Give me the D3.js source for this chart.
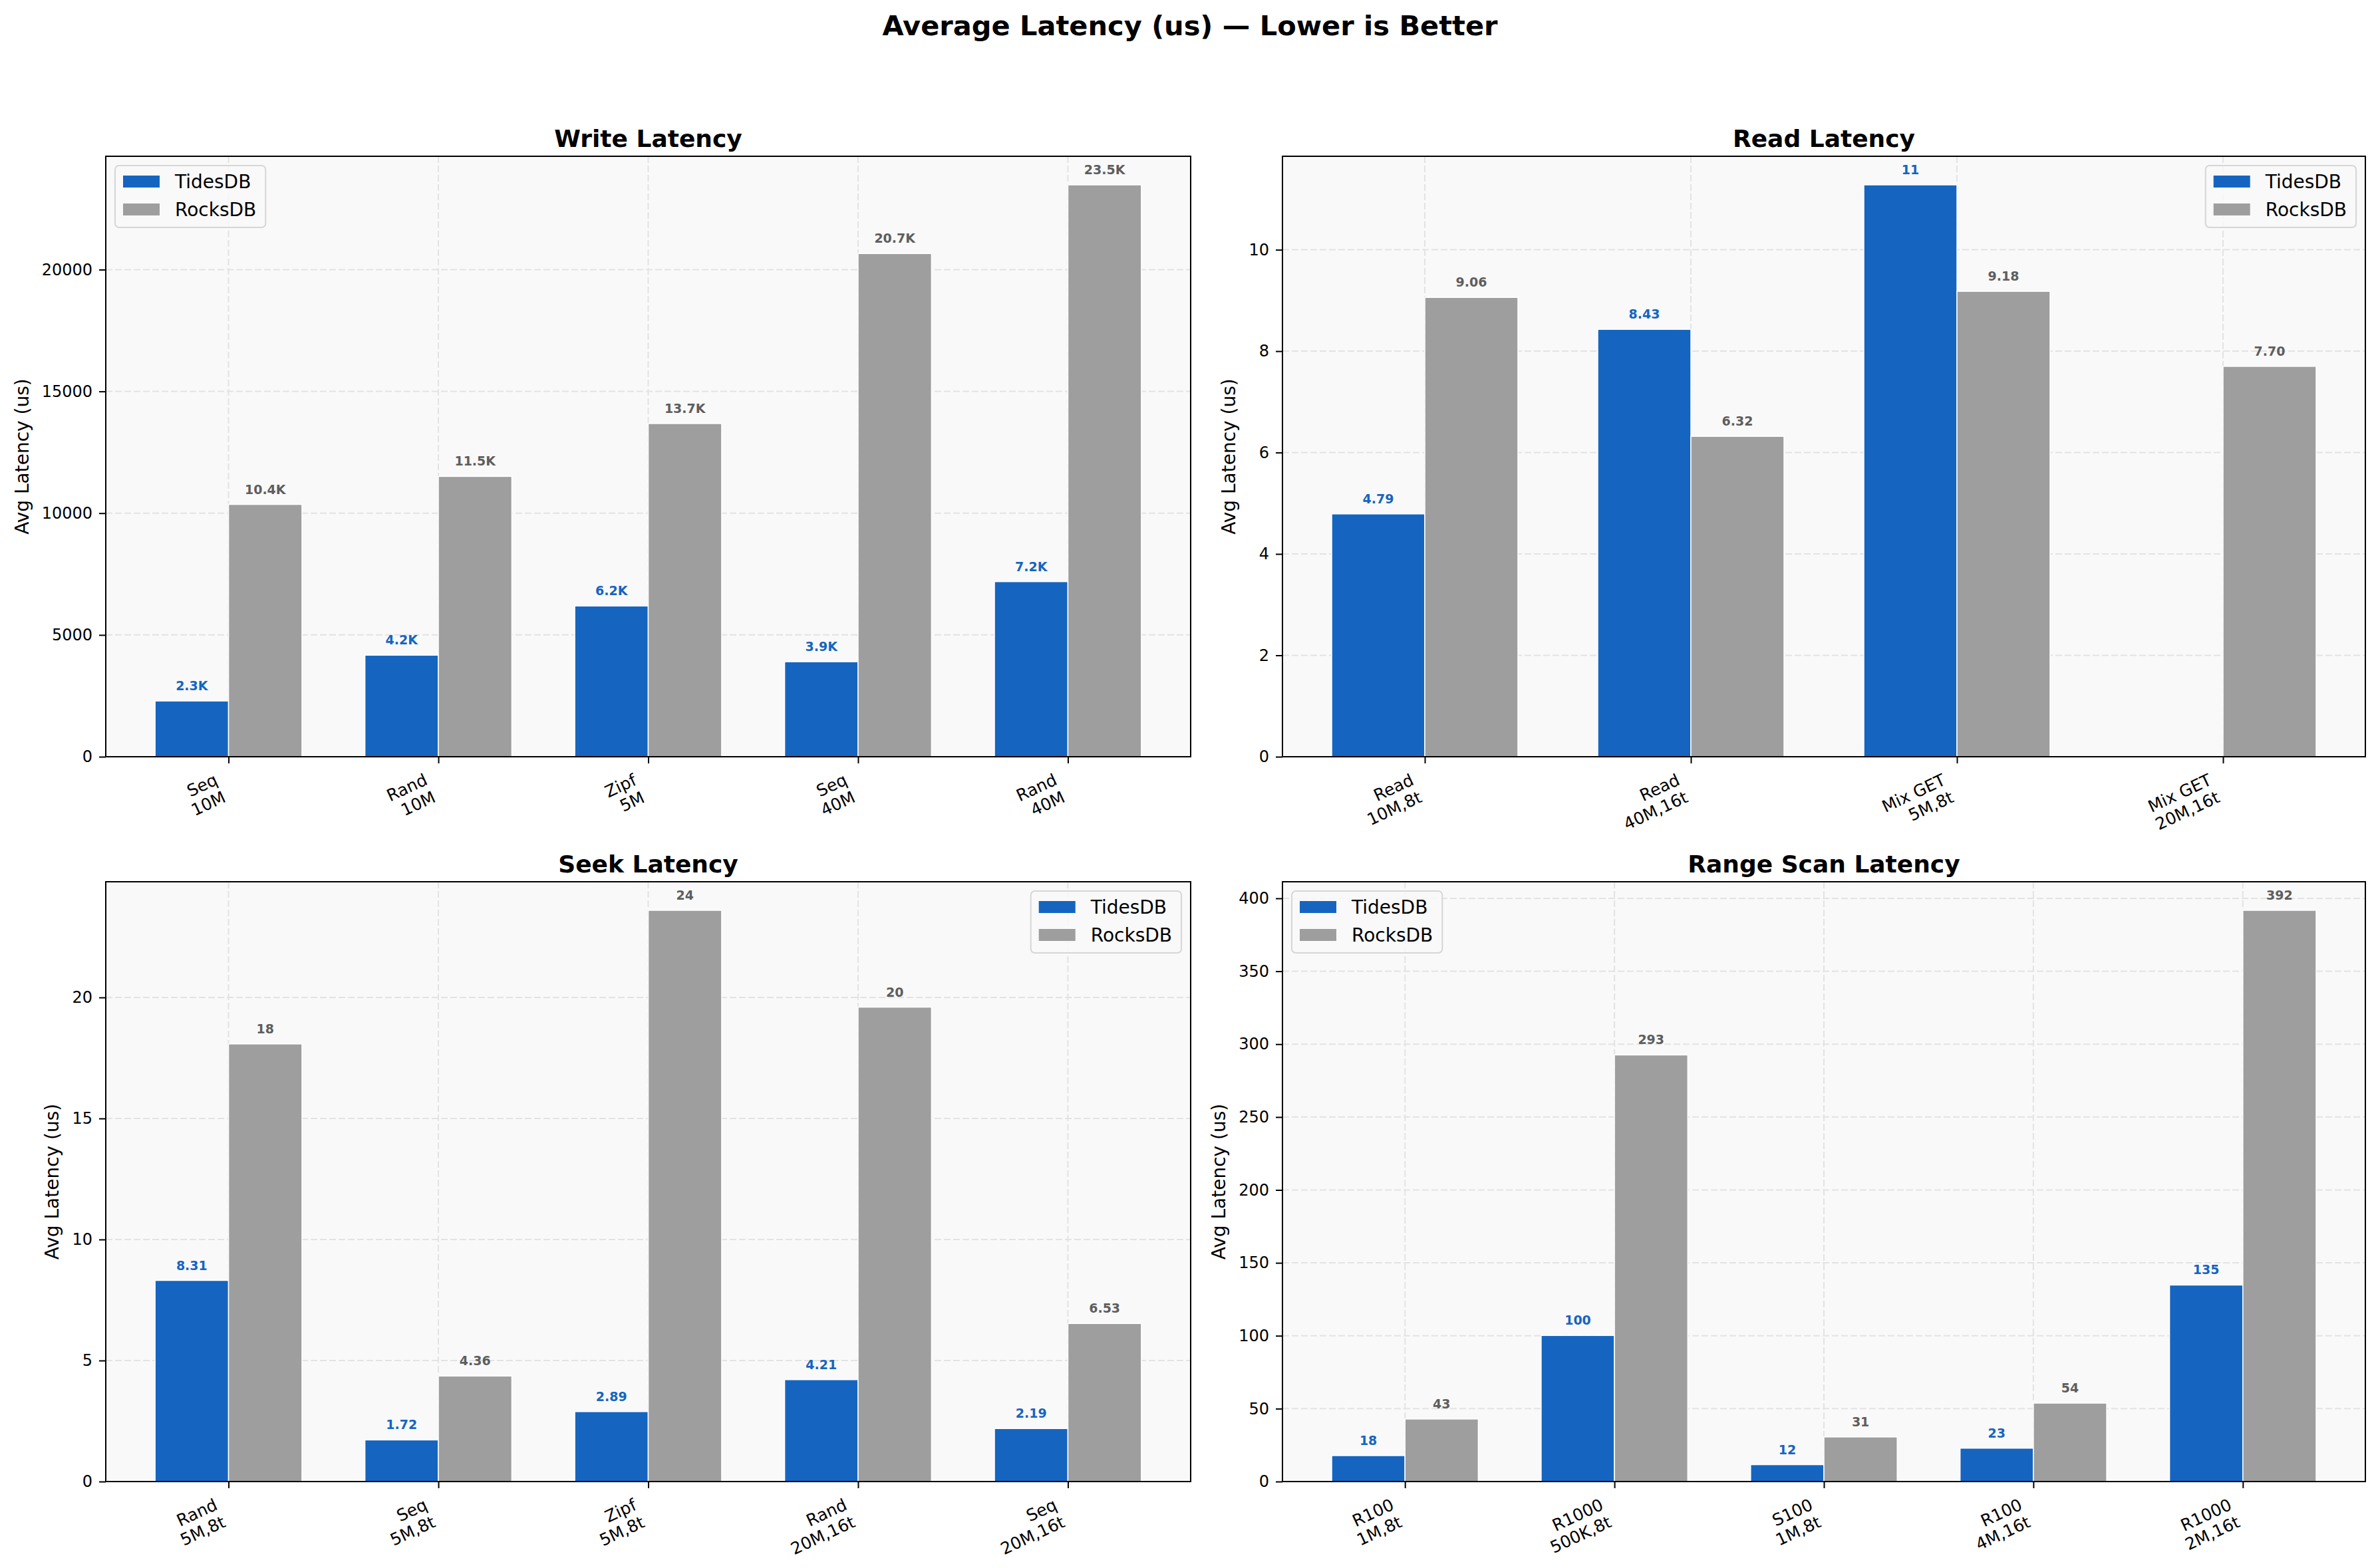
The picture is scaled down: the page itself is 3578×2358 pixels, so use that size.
<!DOCTYPE html>
<html>
<head>
<meta charset="utf-8">
<script src="https://cdn.jsdelivr.net/npm/d3@7"></script>
<style>
  body { margin: 0; background: #fff; }
  svg { display: block; }
  text { font-family: "DejaVu Sans", sans-serif; }
</style>
</head>
<body>
<div id="chart"></div>
<script>
// series names
var seriesNames = ["TidesDB", "RocksDB"];

// Write latency
var writeCats = ["Seq\n10M", "Rand\n10M", "Zipf\n5M", "Seq\n40M", "Rand\n40M"];
var writeTides = [2290, 4170, 6190, 3900, 7190];
var writeRocks = [10360, 11510, 13680, 20660, 23480];
var writeTicks = [0, 5000, 10000, 15000, 20000];

// Read latency
var readCats = ["Read\n10M,8t", "Read\n40M,16t", "Mix GET\n5M,8t", "Mix GET\n20M,16t"];
var readTides = [4.79, 8.43, 11.28, 0];
var readRocks = [9.06, 6.32, 9.18, 7.70];
var readTicks = [0, 2, 4, 6, 8, 10];

// Seek latency
var seekCats = ["Rand\n5M,8t", "Seq\n5M,8t", "Zipf\n5M,8t", "Rand\n20M,16t", "Seq\n20M,16t"];
var seekTides = [8.31, 1.72, 2.89, 4.21, 2.19];
var seekRocks = [18.08, 4.36, 23.6, 19.6, 6.53];
var seekTicks = [0, 5, 10, 15, 20];

// Range scan latency
var rangeCats = ["R100\n1M,8t", "R1000\n500K,8t", "S100\n1M,8t", "R100\n4M,16t", "R1000\n2M,16t"];
var rangeTides = [17.8, 100.2, 11.6, 22.9, 134.8];
var rangeRocks = [42.9, 292.6, 30.6, 53.8, 391.8];
var rangeTicks = [0, 50, 100, 150, 200, 250, 300, 350, 400];

var W = 3578, H = 2358;
var tidesColor = "#1565C0", rocksColor = "#9E9E9E";
var tidesLabel = "#1565C0", rocksLabel = "#5e5e5e";
var barW = 0.35;

//the four panels and where they sit
var panels = [
  {title: "Write Latency", cats: writeCats, a: writeTides, b: writeRocks, ticks: writeTicks, legend: "left",
   left: 159, right: 1790, top: 235, bottom: 1138},
  {title: "Read Latency", cats: readCats, a: readTides, b: readRocks, ticks: readTicks, legend: "right",
   left: 1928, right: 3556, top: 235, bottom: 1138},
  {title: "Seek Latency", cats: seekCats, a: seekTides, b: seekRocks, ticks: seekTicks, legend: "right",
   left: 159, right: 1790, top: 1326, bottom: 2228},
  {title: "Range Scan Latency", cats: rangeCats, a: rangeTides, b: rangeRocks, ticks: rangeTicks, legend: "left",
   left: 1928, right: 3556, top: 1326, bottom: 2228}
];

function fmt(v) {
  if (v >= 1000) return (v / 1000).toFixed(1) + "K";
  if (v >= 10) return v.toFixed(0);
  return v.toFixed(2);
}

var svg = d3.select("#chart").append("svg")
  .attr("width", W)
  .attr("height", H);

svg.append("rect").attr("width", W).attr("height", H).attr("fill", "#fff");

// big title
svg.append("text")
  .attr("x", W / 2)
  .attr("y", 53)
  .attr("text-anchor", "middle")
  .attr("font-size", 41.5)
  .attr("font-weight", "bold")
  .text("Average Latency (us) \u2014 Lower is Better");

function drawPanel(p) {
  var n = p.cats.length;
  var lo = -barW, hi = n - 1 + barW;
  var m = (hi - lo) * 0.05;
  var x = d3.scaleLinear().domain([lo - m, hi + m]).range([p.left, p.right]);
  var ymax = d3.max(p.a.concat(p.b)) * 1.05;
  var y = d3.scaleLinear().domain([0, ymax]).range([p.bottom, p.top]);

  var g = svg.append("g");

  // background
  g.append("rect")
    .attr("x", p.left).attr("y", p.top)
    .attr("width", p.right - p.left).attr("height", p.bottom - p.top)
    .attr("fill", "#f9f9f9");

  // grid
  g.selectAll(".hgrid").data(p.ticks).enter().append("line")
    .attr("x1", p.left).attr("x2", p.right)
    .attr("y1", d => y(d)).attr("y2", d => y(d))
    .attr("stroke", "#e3e3e3").attr("stroke-width", 2).attr("stroke-dasharray", "10,4");
  g.selectAll(".vgrid").data(d3.range(n)).enter().append("line")
    .attr("x1", d => x(d)).attr("x2", d => x(d))
    .attr("y1", p.top).attr("y2", p.bottom)
    .attr("stroke", "#e3e3e3").attr("stroke-width", 2).attr("stroke-dasharray", "10,4");

  // bars
  g.selectAll(".barA").data(p.a).enter().append("rect")
    .attr("x", (d, i) => x(i - barW))
    .attr("width", (d, i) => x(i) - x(i - barW))
    .attr("y", d => y(d))
    .attr("height", d => y(0) - y(d))
    .attr("fill", tidesColor)
    .attr("stroke", "#fff").attr("stroke-width", 1.5);
  g.selectAll(".barB").data(p.b).enter().append("rect")
    .attr("x", (d, i) => x(i))
    .attr("width", (d, i) => x(i + barW) - x(i))
    .attr("y", d => y(d))
    .attr("height", d => y(0) - y(d))
    .attr("fill", rocksColor)
    .attr("stroke", "#fff").attr("stroke-width", 1.5);

  // value labels
  g.selectAll(".labA").data(p.a).enter().filter(d => d > 0).append("text")
    .attr("x", (d, i) => x(i - barW / 2))
    .attr("y", d => y(d) - 16)
    .attr("text-anchor", "middle")
    .attr("font-size", 19).attr("font-weight", "bold")
    .attr("fill", tidesLabel)
    .text(d => fmt(d));
  g.selectAll(".labB").data(p.b).enter().filter(d => d > 0).append("text")
    .attr("x", (d, i) => x(i + barW / 2))
    .attr("y", d => y(d) - 16)
    .attr("text-anchor", "middle")
    .attr("font-size", 19).attr("font-weight", "bold")
    .attr("fill", rocksLabel)
    .text(d => fmt(d));

  // y axis
  var yAx = g.append("g")
    .attr("transform", `translate(${p.left},0)`)
    .call(d3.axisLeft(y).tickValues(p.ticks).tickSize(10).tickPadding(10).tickFormat(d3.format("d")));
  yAx.select(".domain").remove();
  yAx.selectAll("line").attr("stroke", "#000").attr("stroke-width", 2);
  yAx.selectAll("text").attr("font-size", 24).attr("font-family", "DejaVu Sans").attr("fill", "#000");

  // x axis (ticks only, labels below are rotated)
  var xAx = g.append("g")
    .attr("transform", `translate(0,${p.bottom})`)
    .call(d3.axisBottom(x).tickValues(d3.range(n)).tickSize(10).tickFormat(""));
  xAx.select(".domain").remove();
  xAx.selectAll("line").attr("stroke", "#000").attr("stroke-width", 2);

  p.cats.forEach(function(c, i) {
    var lines = c.split("\n");
    var t = g.append("text")
      .attr("text-anchor", "end")
      .attr("font-size", 25)
      .attr("fill", "#000");
    lines.forEach(function(l, k) {
      t.append("tspan").attr("x", 0).attr("dy", k === 0 ? "0.76em" : "1.15em").text(l);
    });
    t.attr("transform", "translate(0,0) rotate(-25)");
    var r = t.node().getBoundingClientRect();
    var tx = x(i) - r.right;
    var ty = p.bottom + 20 - r.top;
    t.attr("transform", `translate(${tx},${ty}) rotate(-25)`);
  });

  // y label
  var minX = d3.min(yAx.selectAll("text").nodes(), nd => nd.getBoundingClientRect().left);
  g.append("text")
    .attr("transform", `translate(${minX - 20},${(p.top + p.bottom) / 2}) rotate(-90)`)
    .attr("text-anchor", "middle")
    .attr("font-size", 28)
    .text("Avg Latency (us)");

  // title
  g.append("text")
    .attr("x", (p.left + p.right) / 2)
    .attr("y", p.top - 14)
    .attr("text-anchor", "middle")
    .attr("font-size", 36).attr("font-weight", "bold")
    .text(p.title);

  // spines
  g.append("rect")
    .attr("x", p.left).attr("y", p.top)
    .attr("width", p.right - p.left).attr("height", p.bottom - p.top)
    .attr("fill", "none").attr("stroke", "#000").attr("stroke-width", 2);

  // legend
  var leg = g.append("g");
  var box = leg.append("rect")
    .attr("rx", 6).attr("ry", 6)
    .attr("fill", "#f9f9f9").attr("fill-opacity", 0.8)
    .attr("stroke", "#d6d6d6").attr("stroke-width", 2);
  var colors = [tidesColor, rocksColor];
  var tw = 0;
  seriesNames.forEach(function(s, k) {
    leg.append("rect")
      .attr("x", 12).attr("y", 15 + k * 42)
      .attr("width", 55).attr("height", 18)
      .attr("fill", colors[k]);
    var tt = leg.append("text")
      .attr("x", 90).attr("y", 34 + k * 42)
      .attr("font-size", 28)
      .text(s);
    tw = Math.max(tw, tt.node().getComputedTextLength());
  });
  var lw = 90 + tw + 14, lh = 93;
  box.attr("width", lw).attr("height", lh);
  var lx = p.legend === "left" ? p.left + 14 : p.right - 14 - lw;
  leg.attr("transform", `translate(${lx},${p.top + 14})`);
}

panels.forEach(drawPanel);
</script>
</body>
</html>
